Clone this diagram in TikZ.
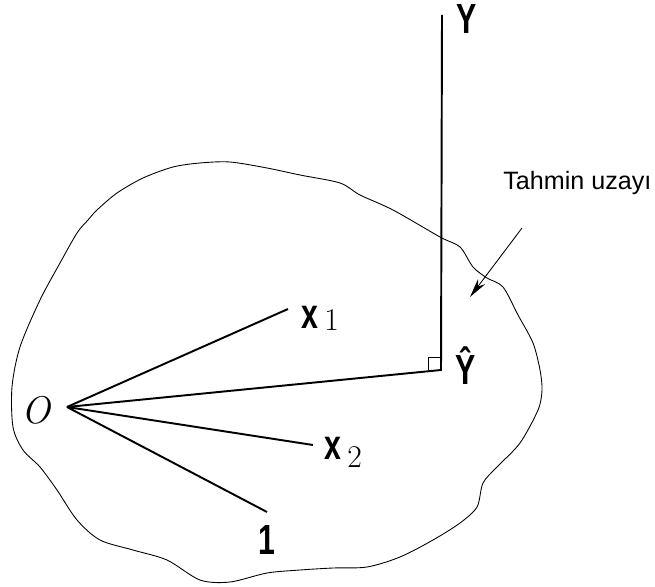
\documentclass[tikz,border=0pt]{standalone}
\usepackage{fontspec}
\setsansfont{Liberation Sans}
\usepackage{graphicx}
\usetikzlibrary{arrows.meta, positioning}
\newcommand{\veclab}[1]{\scalebox{0.72}[1]{\bfseries\sffamily #1}}

\begin{document}
\begin{tikzpicture}[
                x=0.02cm, y=-0.02cm,
                vec/.style={line width=1.1pt},
                thinline/.style={line width=0.5pt},
                lab/.style={inner sep=0pt, font=\fontsize{24}{28}\selectfont},
                sublab/.style={inner sep=0pt, font=\fontsize{18}{21}\selectfont}
            ]
                \useasboundingbox (0,0) rectangle (655,587);
                % tahmin uzayi
                \draw[thinline] plot[smooth cycle, tension=0.5] coordinates {
                    (12,387) (20,347) (40,300) (60,263) (77,233) (88,220) (97,210)
                    (117,193) (143,178) (173,167) (200,163) (230,162) (267,168)
                    (300,175) (340,183) (360,195) (393,210) (440,237) (460,247)
                    (473,267) (487,278) (503,287) (518,315) (533,343) (540,370)
                    (542,390) (538,410) (520,443) (497,467) (483,483) (477,507)
                    (460,523) (433,540) (400,557) (367,567) (333,568) (300,570)
                    (267,573) (230,582) (200,580) (167,560) (133,550) (100,540)
                    (77,520) (57,490) (40,467) (23,450) (13,427)};

                \coordinate (O) at (67,407);
                \coordinate (x1end) at (288,309);
                \coordinate (x2end) at (313,445);
                \coordinate (oneend) at (267,512);
                \coordinate (yhat) at (441,370);
                \coordinate (ytop) at (442,15);

                \draw[vec] (O) -- (x1end);
                \draw[vec] (O) -- (x2end);
                \draw[vec] (O) -- (oneend);
                \draw[vec] (O) -- (yhat) -- (ytop);
                \draw[thinline] ([xshift=-13*0.02cm]yhat) -- ++(0,-13) -- ++(13,0);

                \node [inner sep=0pt, font=\fontsize{22}{26}\selectfont] (olab) at (36,410) {\itshape O};
                \node [lab] (ylab) at (467,19) {\veclab{Y}};
                \node [lab] (yhatlab) at (466,366) {\veclab{Ŷ}};
                \node [lab] (x1lab) at (310,317) {\veclab{x}};
                \node [sublab, anchor=south west] (x1sub) at ([xshift=3pt, yshift=-1.5pt]x1lab.south east) {1};
                \node [lab] (x2lab) at (333,448) {\veclab{x}};
                \node [sublab, anchor=south west] (x2sub) at ([xshift=3pt, yshift=-5pt]x2lab.south east) {2};
                \node [lab] (onelab) at (267,540) {\veclab{1}};

                \node [anchor=base west, inner sep=0pt, font=\sffamily\fontsize{14.3}{17}\selectfont] (tahmin) at (503,190) {Tahmin uzayı};
                \coordinate (arrtail) at (522,228);
                \coordinate (arrtip) at (470,297);
                \draw[thinline, -{Stealth[length=11pt, width=5pt]}] (arrtail) -- (arrtip);
            \end{tikzpicture}
\end{document}
